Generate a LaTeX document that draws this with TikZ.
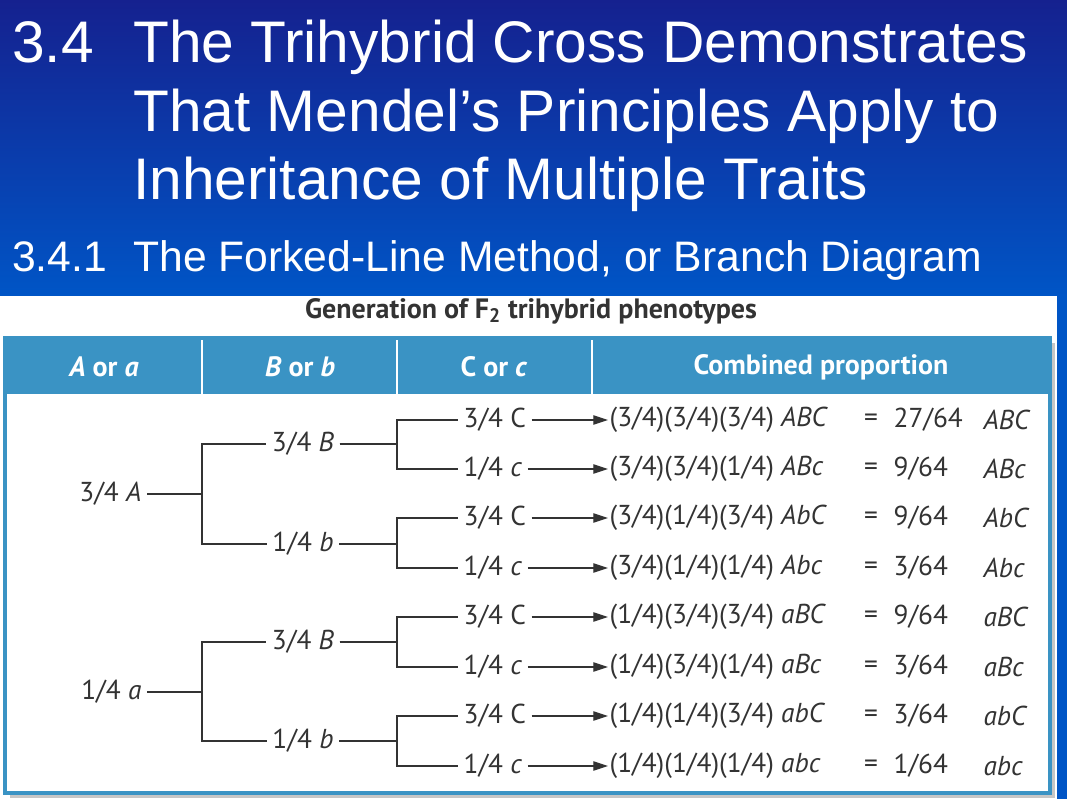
\documentclass[tikz,border=0pt]{standalone}
\usepackage{fontspec}
\setmainfont{Liberation Sans}
\newfontfamily\figfont{PT Sans}
\usetikzlibrary{arrows.meta}
\definecolor{navy}{HTML}{15218F}
\definecolor{slideblue}{HTML}{0055C6}
\definecolor{headblue}{HTML}{3A93C4}
\definecolor{figgray}{HTML}{333333}
\tikzset{
  lbl/.style={inner xsep=4pt, inner ysep=1pt, font=\figfont\fontsize{20.5}{22}\selectfont, text=figgray},
  head/.style={font=\figfont\bfseries\fontsize{21}{23}\selectfont, text=white},
  fork/.style={figgray, line width=0.9pt},
  arr/.style={fork, -{Triangle[length=11pt,width=7pt]}}
}
\begin{document}
\begin{tikzpicture}[x=0.75pt, y=-0.75pt]
    \useasboundingbox (0,0) rectangle (1067,799);
    % slide background
    \shade[top color=navy, bottom color=slideblue] (0,0) rectangle (1067,296);
    \fill[white] (0,296) rectangle (1067,799);
    \fill[slideblue] (1057,296) rectangle (1067,799);
    \node[anchor=base west, text=white, font=\fontsize{44}{48}\selectfont, inner sep=0] (num) at (12,63) {3.4};
    \node[anchor=base west, text=white, font=\fontsize{44}{48}\selectfont, inner sep=0] (title) at (133,63) {The Trihybrid Cross Demonstrates};
    \node[anchor=base west, text=white, font=\fontsize{44}{48}\selectfont, inner sep=0] (title2) at (133,131) {That Mendel’s Principles Apply to};
    \node[anchor=base west, text=white, font=\fontsize{44}{48}\selectfont, inner sep=0] (title3) at (133,199) {Inheritance of Multiple Traits};
    \node[anchor=base west, text=white, font=\fontsize{32}{36}\selectfont, inner sep=0] (subnum) at (12,271) {3.4.1};
    \node[anchor=base west, text=white, font=\fontsize{32}{36}\selectfont, inner sep=0] (sub) at (133,271) {The Forked-Line Method, or Branch Diagram};

    % table frame
    \fill[gray!45] (10,343) rectangle (1055,798);
    \fill[white] (5,338) rectangle (1050,793);
    \fill[headblue] (5,338) rectangle (1050,394);
    \draw[headblue, line width=2.5pt] (5,338) rectangle (1050,793);
    \foreach \x in {202,397,592}
        \draw[white, line width=2pt] (\x,340) -- (\x,394);
    \node[font=\figfont\bfseries\fontsize{21}{23}\selectfont, text=figgray] (cap) at (531,311) {Generation of F\textsubscript{2} trihybrid phenotypes};
    \node[head] (hA) at (104,367) {\textit{A} or \textit{a}};
    \node[head] (hB) at (300,367) {\textit{B} or \textit{b}};
    \node[head] (hC) at (494,367) {C or \textit{c}};
    \node[head] (hP) at (821,367) {Combined proportion};

    % first column
    \node[lbl, anchor=east] (A1) at (147,494) {3/4 \textit{A}};
    \node[lbl, anchor=east] (A2) at (147,692) {1/4 \textit{a}};
    % second column
    \foreach \n/\y/\t in {B1/444/3\slash4 \textit{B}, B2/544/1\slash4 \textit{b}, B3/642/3\slash4 \textit{B}, B4/741/1\slash4 \textit{b}}
        \node[lbl] (\n) at (303,\y) {\t};
    \coordinate (fork2) at (202,0);
    \coordinate (fork3) at (397,0);
    \foreach \a/\b in {A1/B1, A1/B2, A2/B3, A2/B4}
        \draw[fork] (\a.east) -- (\a.east -| fork2) |- (\b.west);
    % third column and products
    \foreach \i/\b/\y/\t/\p/\v/\g in {
        1/B1/420/3\slash4 C/(3\slash4)(3\slash4)(3\slash4) \textit{ABC}/27\slash64/\textit{ABC},
        2/B1/469/1\slash4 \textit{c}/(3\slash4)(3\slash4)(1\slash4) \textit{ABc}/9\slash64/\textit{ABc},
        3/B2/518/3\slash4 C/(3\slash4)(1\slash4)(3\slash4) \textit{AbC}/9\slash64/\textit{AbC},
        4/B2/568/1\slash4 \textit{c}/(3\slash4)(1\slash4)(1\slash4) \textit{Abc}/3\slash64/\textit{Abc},
        5/B3/617/3\slash4 C/(1\slash4)(3\slash4)(3\slash4) \textit{aBC}/9\slash64/\textit{aBC},
        6/B3/667/1\slash4 \textit{c}/(1\slash4)(3\slash4)(1\slash4) \textit{aBc}/3\slash64/\textit{aBc},
        7/B4/716/3\slash4 C/(1\slash4)(1\slash4)(3\slash4) \textit{abC}/3\slash64/\textit{abC},
        8/B4/766/1\slash4 \textit{c}/(1\slash4)(1\slash4)(1\slash4) \textit{abc}/1\slash64/\textit{abc}} {
        \node[lbl, anchor=west] (C\i) at (458,\y) {\t};
        \node[lbl, anchor=west, inner xsep=1pt] (P\i) at (608,\y) {\p};
        \node[lbl] (E\i) at (871,\y) {=};
        \node[lbl, anchor=west] (V\i) at (888,\y) {\v};
        \node[lbl, anchor=west] (G\i) at (978,\y) {\g};
        \draw[fork] (\b.east) -- (\b.east -| fork3) |- (C\i.west);
        \draw[arr] (C\i.east) -- (P\i.west);
    }
\end{tikzpicture}
\end{document}
